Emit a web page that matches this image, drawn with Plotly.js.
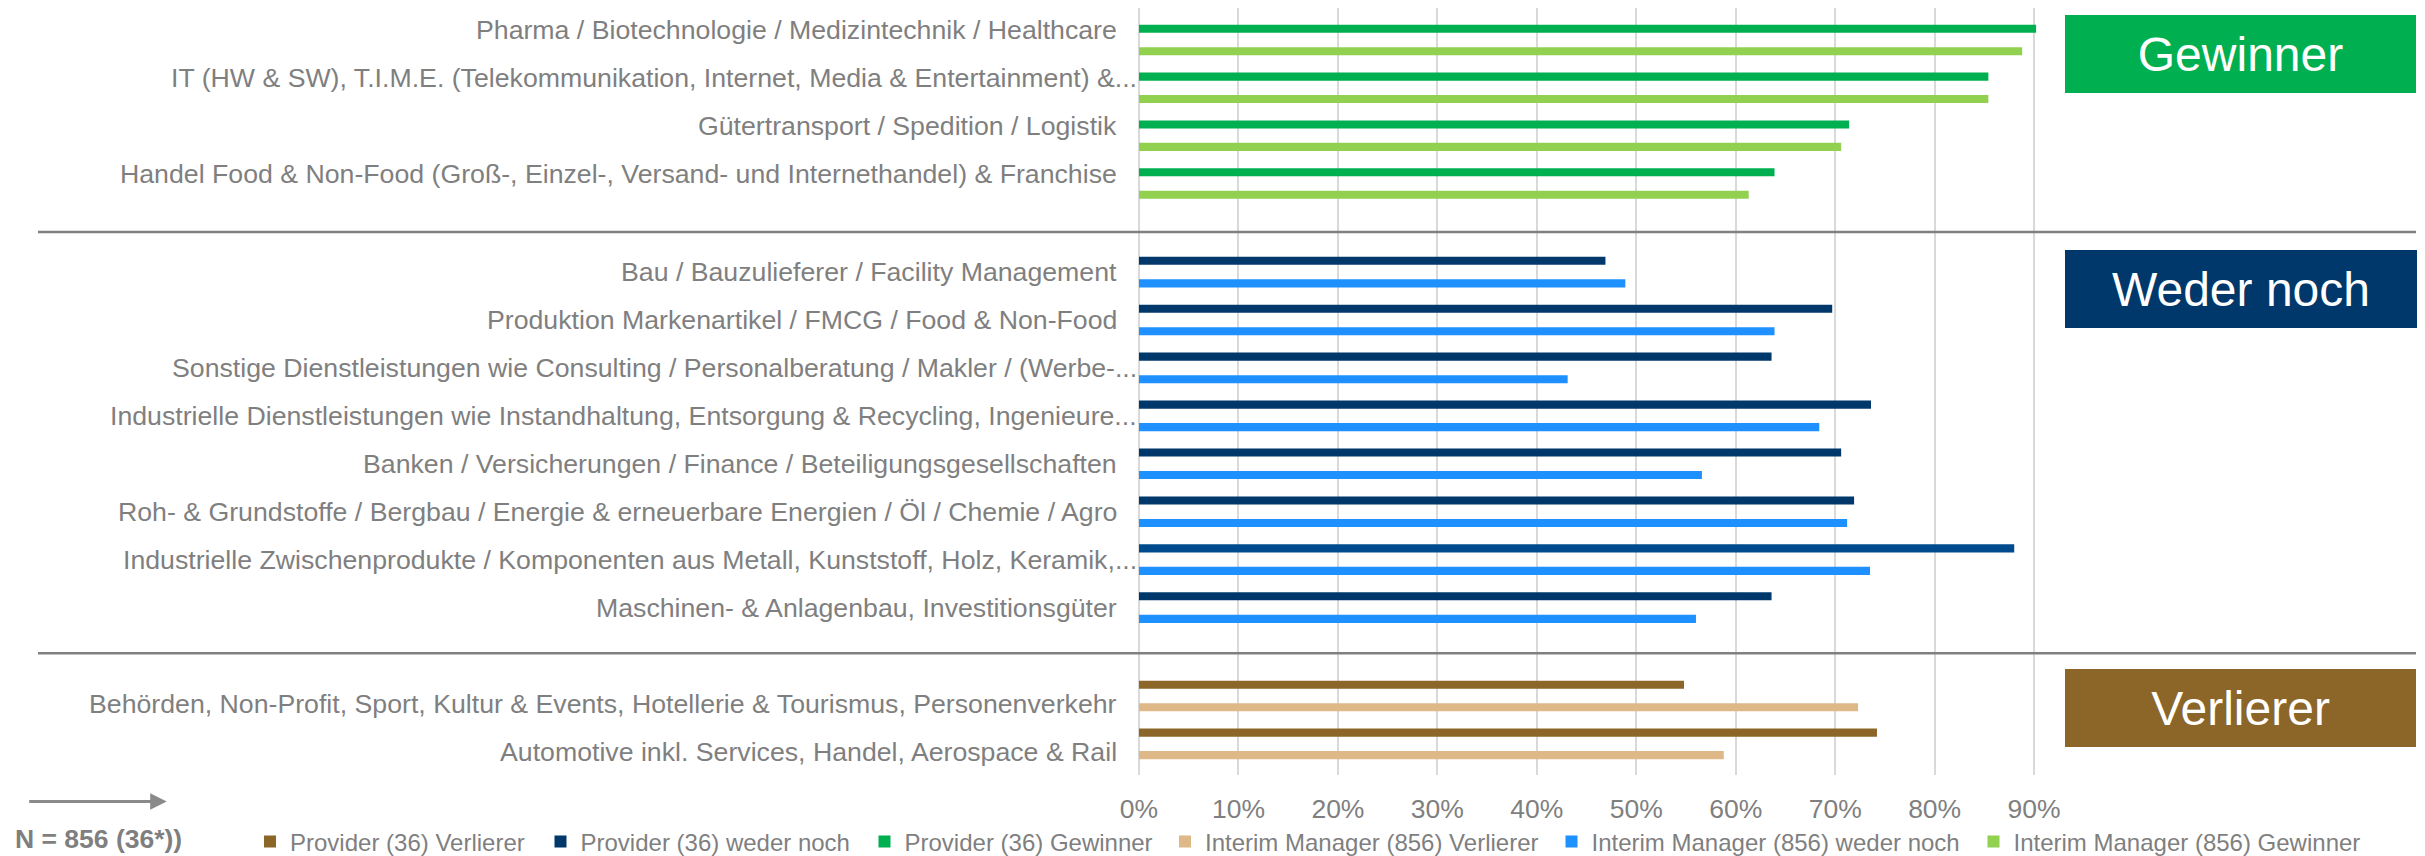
<!DOCTYPE html>
<html>
<head>
<meta charset="utf-8">
<script src="https://cdn.plot.ly/plotly-3.0.1.min.js"></script>
<style>
  html, body { margin: 0; padding: 0; background: #ffffff; }
  #chart { width: 2425px; height: 856px; }
</style>
</head>
<body>
<div id="chart"></div>
<script>
// ---------------- DATA ----------------
const categoriesGewinner = [
  'Pharma / Biotechnologie / Medizintechnik / Healthcare',
  'IT (HW & SW), T.I.M.E. (Telekommunikation, Internet, Media & Entertainment) &...',
  'Gütertransport / Spedition / Logistik',
  'Handel Food & Non-Food (Groß-, Einzel-, Versand- und Internethandel) & Franchise'
];
const providerGewinner = [0.902, 0.854, 0.714, 0.639];
const interimGewinner  = [0.888, 0.854, 0.706, 0.613];

const categoriesWeder = [
  'Bau / Bauzulieferer / Facility Management',
  'Produktion Markenartikel / FMCG / Food & Non-Food',
  'Sonstige Dienstleistungen wie Consulting / Personalberatung / Makler / (Werbe-...',
  'Industrielle Dienstleistungen wie Instandhaltung, Entsorgung & Recycling, Ingenieure...',
  'Banken / Versicherungen / Finance / Beteiligungsgesellschaften',
  'Roh- & Grundstoffe / Bergbau / Energie & erneuerbare Energien / Öl / Chemie / Agro',
  'Industrielle Zwischenprodukte / Komponenten aus Metall, Kunststoff, Holz, Keramik,...',
  'Maschinen- & Anlagenbau, Investitionsgüter'
];
const providerWeder = [0.469, 0.697, 0.636, 0.736, 0.706, 0.719, 0.880, 0.636];
const interimWeder  = [0.489, 0.639, 0.431, 0.684, 0.566, 0.712, 0.735, 0.560];

const categoriesVerlierer = [
  'Behörden, Non-Profit, Sport, Kultur & Events, Hotellerie & Tourismus, Personenverkehr',
  'Automotive inkl. Services, Handel, Aerospace & Rail'
];
const providerVerlierer = [0.548, 0.742];
const interimVerlierer  = [0.723, 0.588];

const seriesNames = {
  pV: 'Provider (36) Verlierer',
  pW: 'Provider (36) weder noch',
  pG: 'Provider (36) Gewinner',
  iV: 'Interim Manager (856) Verlierer',
  iW: 'Interim Manager (856) weder noch',
  iG: 'Interim Manager (856) Gewinner'
};
const sectionTitles = ['Gewinner', 'Weder noch', 'Verlierer'];
const xTickVals = [0, 0.1, 0.2, 0.3, 0.4, 0.5, 0.6, 0.7, 0.8, 0.9];
const xTickText = ['0%', '10%', '20%', '30%', '40%', '50%', '60%', '70%', '80%', '90%'];
const footnote = 'N = 856 (36*))';

// ---------------- STYLE / GEOMETRY ----------------
const W = 2425, H = 856, L = 1139, R = 371, T = 8, B = 81;
const plotW = W - L - R, plotH = H - T - B;
const px2x = px => (px - L) / plotW;
const py2y = py => (H - B - py) / plotH;

const FONT = '"Liberation Sans", Arial, sans-serif';
const GRAY = '#7f7f7f';
const C = {
  pV: '#8c6529', iV: '#deb887',
  pW: '#00386b', pWhi: '#004b8d', iW: '#1e90ff',
  pG: '#00b050', iG: '#92d050'
};

const provWederColors = categoriesWeder.map((c, i) => i === 6 ? C.pWhi : C.pW);

function bar(name, cats, vals, color, yaxis, legend, rank) {
  return {
    type: 'bar', orientation: 'h', name: name, x: vals, y: cats,
    xaxis: 'x', yaxis: yaxis, legend: legend, legendrank: rank,
    marker: { color: color, line: { width: 0 } },
    hoverinfo: 'x+y'
  };
}

const data = [
  bar(seriesNames.pG, categoriesGewinner, providerGewinner, C.pG, 'y', 'legend3', 3),
  bar(seriesNames.iG, categoriesGewinner, interimGewinner, C.iG, 'y', 'legend6', 6),
  bar(seriesNames.pW, categoriesWeder, providerWeder, provWederColors, 'y2', 'legend2', 2),
  bar(seriesNames.iW, categoriesWeder, interimWeder, C.iW, 'y2', 'legend5', 5),
  bar(seriesNames.pV, categoriesVerlierer, providerVerlierer, C.pV, 'y3', 'legend', 1),
  bar(seriesNames.iV, categoriesVerlierer, interimVerlierer, C.iV, 'y3', 'legend4', 4)
];

const yBase = {
  type: 'category', autorange: false, showticklabels: false, showgrid: false,
  zeroline: false, showline: false, ticks: '', anchor: 'x', fixedrange: true
};

const sepTop = 232, sepBot = 653.3;

const layout = {
  width: W, height: H,
  margin: { l: L, r: R, t: T, b: B, pad: 0, autoexpand: false },
  paper_bgcolor: '#ffffff', plot_bgcolor: '#ffffff',
  font: { family: FONT, color: GRAY },
  barmode: 'group', bargap: 0.06, bargroupgap: 0.64,
  xaxis: {
    range: [0, 0.92], anchor: 'y3', tickvals: xTickVals, ticktext: xTickText,
    showgrid: true, gridcolor: '#d9d9d9', gridwidth: 1.5,
    zeroline: true, zerolinecolor: '#d9d9d9', zerolinewidth: 1.5,
    showline: false, ticks: '', ticklabelstandoff: 15,
    tickfont: { family: FONT, size: 26.5, color: GRAY }, fixedrange: true
  },
  yaxis:  Object.assign({}, yBase, { domain: [py2y(sepTop), 1], range: [4.014, -0.669] }),
  yaxis2: Object.assign({}, yBase, { domain: [py2y(sepBot), py2y(sepTop)], range: [7.954, -0.836] }),
  yaxis3: Object.assign({}, yBase, { domain: [0, py2y(sepBot)], range: [1.65, -0.89] }),
  shapes: [sepTop, sepBot].map(py => ({
    type: 'line', xref: 'paper', yref: 'paper',
    x0: px2x(38), x1: px2x(2416), y0: py2y(py), y1: py2y(py),
    line: { color: '#808080', width: 2.5 }
  })),
  annotations: [],
  showlegend: true
};

// legends (one per series so each entry sits where the original has it)
const legendText = [290, 580.5, 904.5, 1205, 1591.5, 2013.5];
const legendKeys = ['legend', 'legend2', 'legend3', 'legend4', 'legend5', 'legend6'];
legendKeys.forEach((k, i) => {
  layout[k] = {
    orientation: 'h', x: px2x(legendText[i] - 40), xanchor: 'left',
    y: py2y(842), yanchor: 'middle', bgcolor: 'rgba(0,0,0,0)', borderwidth: 0,
    font: { family: FONT, size: 24, color: GRAY }, itemclick: false, itemdoubleclick: false
  };
});

// category labels
function addLabels(cats, yref, yshift) {
  cats.forEach(c => {
    const truncated = c.endsWith('...');
    layout.annotations.push({
      xref: 'x', yref: yref, x: 0, y: c, text: c, showarrow: false,
      xanchor: 'right', yanchor: 'middle', xshift: truncated ? 0 : -20, yshift: yshift,
      font: { family: FONT, size: 26.7, color: GRAY }
    });
  });
}
addLabels(categoriesGewinner, 'y', 10);
addLabels(categoriesWeder, 'y2', 0);
addLabels(categoriesVerlierer, 'y3', -8);

// section boxes
const boxes = [
  { text: sectionTitles[0], cx: 2240.3, cy: 53.9, w: 351, h: 78, bg: '#00b050' },
  { text: sectionTitles[1], cx: 2240.8, cy: 289.2, w: 352, h: 78, bg: '#00386b' },
  { text: sectionTitles[2], cx: 2240.3, cy: 707.8, w: 351, h: 78, bg: '#8c6529' }
];
boxes.forEach(b => {
  layout.annotations.push({
    xref: 'paper', yref: 'paper', x: px2x(b.cx), y: py2y(b.cy),
    xanchor: 'center', yanchor: 'middle', text: b.text, showarrow: false,
    width: b.w, height: b.h, bgcolor: b.bg, borderpad: 0, borderwidth: 0,
    font: { family: FONT, size: 48, color: '#ffffff' }
  });
});

// arrow and footnote
layout.annotations.push({
  xref: 'paper', yref: 'paper', x: px2x(166.7), y: py2y(801.5),
  ax: -139, ay: 0, text: '', showarrow: true,
  arrowhead: 2, arrowsize: 1.1, arrowwidth: 3, arrowcolor: '#8a8a8a'
});
layout.annotations.push({
  xref: 'paper', yref: 'paper', x: px2x(98.3), y: py2y(838.5),
  xanchor: 'center', yanchor: 'middle', text: '<b>' + footnote + '</b>', showarrow: false,
  font: { family: FONT, size: 26.5, color: GRAY }
});

Plotly.newPlot('chart', data, layout, { displayModeBar: false, responsive: false });
</script>
</body>
</html>
